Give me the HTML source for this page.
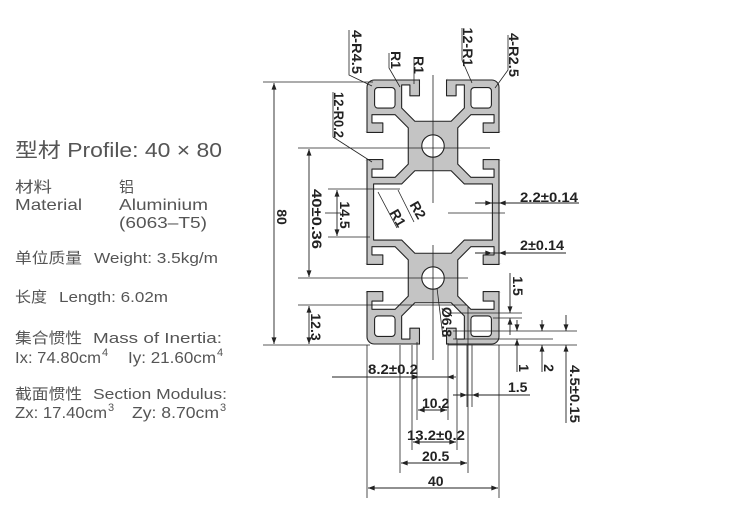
<!DOCTYPE html>
<html><head><meta charset="utf-8"><style>
html,body{margin:0;padding:0;background:#fff;}
svg{display:block;}
.t{font-family:"Liberation Sans","Noto Sans CJK SC",sans-serif;fill:#555;}
.d{font-family:"Liberation Sans",sans-serif;font-weight:bold;font-size:14px;fill:#222;}
.l{stroke:#222;stroke-width:0.9;fill:none;}
</style></head><body>
<svg width="755" height="515" viewBox="0 0 755 515" xmlns="http://www.w3.org/2000/svg">
<defs>
<marker id="a" viewBox="0 0 8 6" refX="8" refY="3" markerWidth="7" markerHeight="5" markerUnits="userSpaceOnUse" orient="auto-start-reverse"><path d="M0,0L8,3L0,6z" fill="#222"/></marker>
</defs>

<!-- left text -->
<text class="t" x="15" y="157" font-size="20" textLength="207" lengthAdjust="spacingAndGlyphs">型材 Profile: 40 × 80</text>
<text class="t" x="15" y="192" font-size="15" textLength="37" lengthAdjust="spacingAndGlyphs">材料</text>
<text class="t" x="15" y="210" font-size="16" textLength="67" lengthAdjust="spacingAndGlyphs">Material</text>
<text class="t" x="119" y="192" font-size="15">铝</text>
<text class="t" x="119" y="210" font-size="16" textLength="89" lengthAdjust="spacingAndGlyphs">Aluminium</text>
<text class="t" x="119" y="228" font-size="16" textLength="88" lengthAdjust="spacingAndGlyphs">(6063–T5)</text>
<text class="t" x="15" y="263" font-size="15" textLength="67" lengthAdjust="spacingAndGlyphs">单位质量</text>
<text class="t" x="94" y="263" font-size="15" textLength="124" lengthAdjust="spacingAndGlyphs">Weight: 3.5kg/m</text>
<text class="t" x="15" y="302" font-size="15" textLength="32" lengthAdjust="spacingAndGlyphs">长度</text>
<text class="t" x="59" y="302" font-size="15" textLength="109" lengthAdjust="spacingAndGlyphs">Length: 6.02m</text>
<text class="t" x="15" y="343" font-size="15" textLength="67" lengthAdjust="spacingAndGlyphs">集合惯性</text>
<text class="t" x="93" y="343" font-size="15" textLength="129" lengthAdjust="spacingAndGlyphs">Mass of Inertia:</text>
<text class="t" x="15" y="363" font-size="16" textLength="86" lengthAdjust="spacingAndGlyphs">Ix: 74.80cm</text>
<text class="t" x="102" y="356" font-size="11">4</text>
<text class="t" x="128" y="363" font-size="16" textLength="88" lengthAdjust="spacingAndGlyphs">Iy: 21.60cm</text>
<text class="t" x="217" y="356" font-size="11">4</text>
<text class="t" x="15" y="399" font-size="15" textLength="67" lengthAdjust="spacingAndGlyphs">截面惯性</text>
<text class="t" x="93" y="399" font-size="15" textLength="134" lengthAdjust="spacingAndGlyphs">Section Modulus:</text>
<text class="t" x="15" y="418" font-size="16" textLength="92" lengthAdjust="spacingAndGlyphs">Zx: 17.40cm</text>
<text class="t" x="108" y="411" font-size="11">3</text>
<text class="t" x="132" y="418" font-size="16" textLength="87" lengthAdjust="spacingAndGlyphs">Zy: 8.70cm</text>
<text class="t" x="220" y="411" font-size="11">3</text>

<!-- profile -->
<g transform="translate(367,80) scale(3.3)" stroke="#222" stroke-width="0.33" stroke-linejoin="round">
<rect x="0" y="0" width="40" height="80" rx="2.2" fill="#c4c4c4"/>
<g fill="#fff">
<polygon points="15.9,-0.6 15.9,4.8 13,4.8 13,1.5 10.5,1.5 10.5,8.5 14.5,12.5 25.5,12.5 29.5,8.5 29.5,1.5 27,1.5 27,4.8 24.1,4.8 24.1,-0.6"/>
<polygon points="15.9,80.6 15.9,75.2 13,75.2 13,78.5 10.5,78.5 10.5,71.5 14.5,67.5 25.5,67.5 29.5,71.5 29.5,78.5 27,78.5 27,75.2 24.1,75.2 24.1,80.6"/>
<polygon points="-0.6,15.9 4.8,15.9 4.8,13 1.5,13 1.5,10.5 8.5,10.5 12.5,14.5 12.5,25.5 8.5,29.5 1.5,29.5 1.5,27 4.8,27 4.8,24.1 -0.6,24.1"/>
<polygon points="-0.6,55.9 4.8,55.9 4.8,53 1.5,53 1.5,50.5 8.5,50.5 12.5,54.5 12.5,65.5 8.5,69.5 1.5,69.5 1.5,67 4.8,67 4.8,64.1 -0.6,64.1"/>
<polygon points="40.6,15.9 35.2,15.9 35.2,13 38.5,13 38.5,10.5 31.5,10.5 27.5,14.5 27.5,25.5 31.5,29.5 38.5,29.5 38.5,27 35.2,27 35.2,24.1 40.6,24.1"/>
<polygon points="40.6,55.9 35.2,55.9 35.2,53 38.5,53 38.5,50.5 31.5,50.5 27.5,54.5 27.5,65.5 31.5,69.5 38.5,69.5 38.5,67 35.2,67 35.2,64.1 40.6,64.1"/>
<polygon points="2,31.5 10.5,31.5 14.5,27.5 25.5,27.5 29.5,31.5 38,31.5 38,48.5 29.5,48.5 25.5,52.5 14.5,52.5 10.5,48.5 2,48.5"/>
<rect x="2.3" y="2.3" width="6.2" height="6.2" rx="1"/>
<rect x="31.5" y="2.3" width="6.2" height="6.2" rx="1"/>
<rect x="2.3" y="71.5" width="6.2" height="6.2" rx="1"/>
<rect x="31.5" y="71.5" width="6.2" height="6.2" rx="1"/>
<circle cx="20" cy="20" r="3.4"/>
<circle cx="20" cy="60" r="3.4"/>
</g>
<g fill="#fff" stroke="none">
<rect x="15.7" y="-1.5" width="8.6" height="1.32"/>
<rect x="15.7" y="80.18" width="8.6" height="1.32"/>
<rect x="-1.5" y="15.7" width="1.32" height="8.6"/>
<rect x="-1.5" y="55.7" width="1.32" height="8.6"/>
<rect x="40.18" y="15.7" width="1.32" height="8.6"/>
<rect x="40.18" y="55.7" width="1.32" height="8.6"/>
</g>
</g>

<!-- center / extension lines -->
<g stroke="#222" stroke-width="0.8" fill="none">
<line x1="433" y1="75" x2="433" y2="203"/>
<line x1="433" y1="245" x2="433" y2="360"/>
<line x1="448" y1="213" x2="505" y2="213"/>
<line x1="325" y1="213" x2="341" y2="213"/>
<line x1="263" y1="82" x2="373" y2="82"/>
<line x1="263" y1="345" x2="370" y2="345"/>
<line x1="298" y1="148" x2="490" y2="148"/>
<line x1="298" y1="278" x2="468" y2="278"/>
<line x1="328" y1="189" x2="400" y2="189"/>
<line x1="328" y1="237" x2="370" y2="237"/>
<line x1="298" y1="305" x2="467" y2="305"/>
<line x1="367" y1="345" x2="367" y2="498"/>
<line x1="499" y1="345" x2="499" y2="498"/>
<line x1="400" y1="345" x2="400" y2="473"/>
<line x1="468" y1="307" x2="468" y2="473"/>
<line x1="412" y1="345" x2="412" y2="450"/>
<line x1="457" y1="340" x2="457" y2="450"/>
<line x1="417" y1="342" x2="417" y2="420"/>
<line x1="448" y1="343" x2="448" y2="420"/>
<line x1="467" y1="345" x2="467" y2="407"/>
<line x1="472" y1="345" x2="472" y2="407"/>
<line x1="447" y1="313" x2="522" y2="313"/>
<line x1="493" y1="318" x2="522" y2="318"/>
<line x1="453" y1="331" x2="577" y2="331"/>
<line x1="453" y1="339" x2="553" y2="339"/>
<line x1="448" y1="345" x2="577" y2="345"/>
<polyline points="349,30 349,75 372,86"/>
<polyline points="389,53 389,68 400,87"/>
<polyline points="414,57 414,84"/>
<polyline points="462,28 462,60 472,83"/>
<polyline points="508,35 508,70 495,88"/>
<polyline points="333,92 333,137 372,162"/>
<line x1="398" y1="190" x2="414" y2="222"/>
<line x1="378" y1="192" x2="397" y2="228"/>
<line x1="437" y1="288" x2="443" y2="337"/>
</g>

<!-- dimension lines -->
<g class="l" marker-start="url(#a)" marker-end="url(#a)">
<line x1="274" y1="83" x2="274" y2="344"/>
<line x1="309" y1="149" x2="309" y2="277"/>
<line x1="337" y1="190" x2="337" y2="236"/>
<line x1="309" y1="306" x2="309" y2="344"/>
<line x1="368" y1="488" x2="498" y2="488"/>
<line x1="401" y1="463" x2="467" y2="463"/>
<line x1="413" y1="442" x2="456" y2="442"/>
<line x1="418" y1="410" x2="447" y2="410"/>
</g>
<g class="l">
<line x1="332" y1="377" x2="447" y2="377"/>
<line x1="410" y1="377" x2="419" y2="377" marker-end="url(#a)"/>
<line x1="456" y1="377" x2="447" y2="377" marker-end="url(#a)"/>
<line x1="475" y1="203" x2="579" y2="203"/>
<line x1="480" y1="203" x2="492" y2="203" marker-end="url(#a)"/>
<line x1="510" y1="203" x2="499" y2="203" marker-end="url(#a)"/>
<line x1="475" y1="253" x2="566" y2="253"/>
<line x1="480" y1="253" x2="492" y2="253" marker-end="url(#a)"/>
<line x1="510" y1="253" x2="499" y2="253" marker-end="url(#a)"/>
<line x1="510" y1="273" x2="510" y2="313" marker-end="url(#a)"/>
<line x1="510" y1="335" x2="510" y2="318" marker-end="url(#a)"/>
<line x1="517" y1="320" x2="517" y2="331" marker-end="url(#a)"/>
<line x1="517" y1="372" x2="517" y2="339" marker-end="url(#a)"/>
<line x1="542" y1="320" x2="542" y2="331" marker-end="url(#a)"/>
<line x1="542" y1="372" x2="542" y2="345" marker-end="url(#a)"/>
<line x1="566" y1="315" x2="566" y2="331" marker-end="url(#a)"/>
<line x1="566" y1="423" x2="566" y2="345" marker-end="url(#a)"/>
<line x1="453" y1="395" x2="530" y2="395"/>
<line x1="455" y1="395" x2="467" y2="395" marker-end="url(#a)"/>
<line x1="484" y1="395" x2="472" y2="395" marker-end="url(#a)"/>
</g>

<!-- dimension text -->
<g class="d" text-anchor="middle" dominant-baseline="central">
<text transform="translate(282,217) rotate(90)">80</text>
<text transform="translate(317,219) rotate(90)" textLength="60" lengthAdjust="spacingAndGlyphs">40±0.36</text>
<text transform="translate(345,215) rotate(90)">14.5</text>
<text transform="translate(316,327) rotate(90)">12.3</text>
<text transform="translate(339,115) rotate(90)" textLength="46" lengthAdjust="spacingAndGlyphs">12-R0.2</text>
<text transform="translate(357,52) rotate(90)" textLength="44" lengthAdjust="spacingAndGlyphs">4-R4.5</text>
<text transform="translate(396,60) rotate(90)">R1</text>
<text transform="translate(419,65) rotate(90)">R1</text>
<text transform="translate(468,47) rotate(90)" textLength="39" lengthAdjust="spacingAndGlyphs">12-R1</text>
<text transform="translate(514,55) rotate(90)" textLength="44" lengthAdjust="spacingAndGlyphs">4-R2.5</text>
<text transform="translate(518,286) rotate(90)">1.5</text>
<text transform="translate(524,368) rotate(90)">1</text>
<text transform="translate(549,368) rotate(90)">2</text>
<text transform="translate(575,394) rotate(90)" textLength="58" lengthAdjust="spacingAndGlyphs">4.5±0.15</text>
<text transform="translate(447,322) rotate(90)">Ø6.8</text>
<text transform="translate(418,210) rotate(60)">R2</text>
<text transform="translate(398,218) rotate(60)">R1</text>
</g>
<g class="d">
<text x="520" y="202" textLength="58" lengthAdjust="spacingAndGlyphs">2.2±0.14</text>
<text x="520" y="250" textLength="44" lengthAdjust="spacingAndGlyphs">2±0.14</text>
<text x="508" y="392">1.5</text>
<text x="368" y="374" textLength="50" lengthAdjust="spacingAndGlyphs">8.2±0.2</text>
<text x="422" y="408">10.2</text>
<text x="407" y="440" textLength="58" lengthAdjust="spacingAndGlyphs">13.2±0.2</text>
<text x="422" y="461">20.5</text>
<text x="428" y="486">40</text>
</g>
</svg>
</body></html>
